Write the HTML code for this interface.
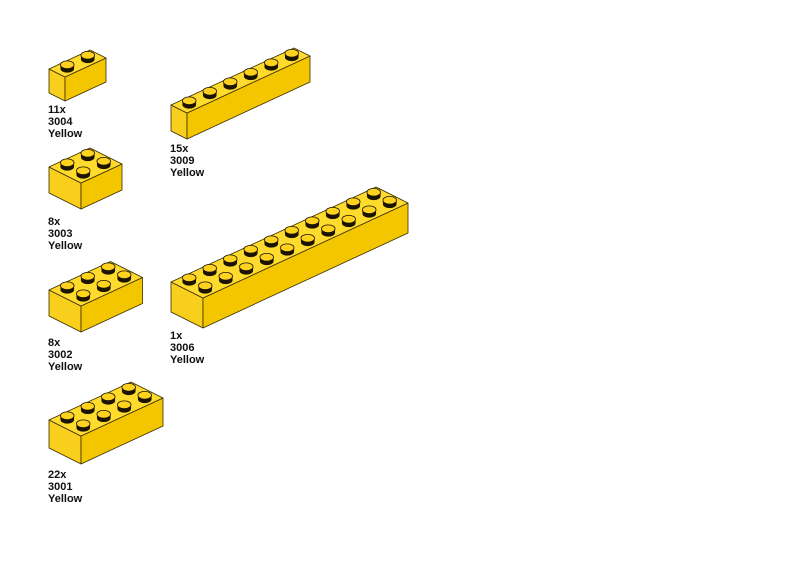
<!DOCTYPE html>
<html><head><meta charset="utf-8"><style>
body{margin:0;background:#fff;width:800px;height:566px;overflow:hidden;position:relative}
.l{position:absolute;font:bold 11px/12px "Liberation Sans",sans-serif;color:#111}
svg{position:absolute;left:0;top:0}
</style></head><body>
<svg id="s" width="800" height="566" viewBox="0 0 800 566"></svg>
<div class="l" style="left:48px;top:104px">11x<br>3004<br>Yellow</div>
<div class="l" style="left:170px;top:143px">15x<br>3009<br>Yellow</div>
<div class="l" style="left:48px;top:216px">8x<br>3003<br>Yellow</div>
<div class="l" style="left:48px;top:337px">8x<br>3002<br>Yellow</div>
<div class="l" style="left:170px;top:330px">1x<br>3006<br>Yellow</div>
<div class="l" style="left:48px;top:469px">22x<br>3001<br>Yellow</div>
<script>
var s=document.getElementById('s'),o='';
var u=[16,8],v=[20.5,-9.5];
function P(p){return p.map(function(q){return q[0].toFixed(1)+','+q[1].toFixed(1)}).join(' ')}
function brick(ox,oy,a,b,h){
 var A=[ox,oy],B=[ox+a*u[0],oy+a*u[1]],C=[B[0]+b*v[0],B[1]+b*v[1]],D=[ox+b*v[0],oy+b*v[1]];
 var st='stroke="#3a2e00" stroke-width="0.8" stroke-linejoin="round"';
 o+='<polygon points="'+P([A,B,[B[0],B[1]+h],[A[0],A[1]+h]])+'" fill="#f8cf1c" '+st+'/>';
 o+='<polygon points="'+P([B,C,[C[0],C[1]+h],[B[0],B[1]+h]])+'" fill="#f3c600" '+st+'/>';
 o+='<polygon points="'+P([A,B,C,D])+'" fill="#ffdb2e" '+st+'/>';
 for(var j=b-1;j>=0;j--)for(var i=0;i<a;i++){
  var cx=ox+(i+.5)*u[0]+(j+.5)*v[0],cy=oy+(i+.5)*u[1]+(j+.5)*v[1];
  o+='<ellipse cx="'+cx+'" cy="'+(cy+0.5)+'" rx="6.8" ry="3.9" fill="#1a1400"/>';
  o+='<rect x="'+(cx-6.8)+'" y="'+(cy-3.5)+'" width="13.6" height="4" fill="#1a1400"/>';
  o+='<ellipse cx="'+cx+'" cy="'+(cy-3.5)+'" rx="6.8" ry="3.9" fill="#ffd21e" stroke="#1a1400" stroke-width="0.8"/>';
 }
}
brick(49,69,1,2,24);
brick(171,105,1,6,26);
brick(49,167,2,2,26);
brick(49,290,2,3,26);
brick(49,420,2,4,28);
brick(171,282,2,10,30);
s.innerHTML=o;
</script>
</body></html>
